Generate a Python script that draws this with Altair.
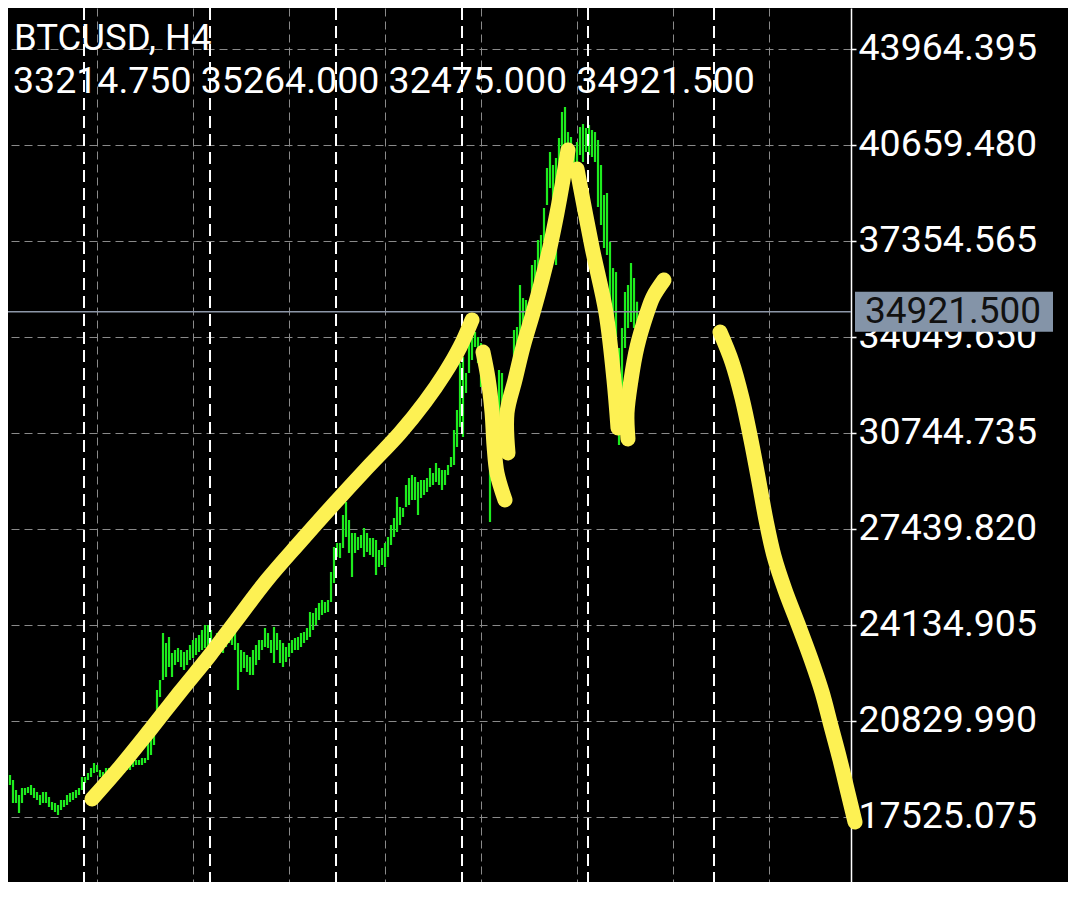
import altair as alt
import pandas as pd

# ---------------- data ----------------
symbol = "BTCUSD, H4"
first_bar = 2  # index of the first bar drawn (H4 bars)

highs = [
    19143, 18971, 18799, 18455, 18283, 18524, 18524, 18558, 18627, 18524,
    18386, 18283, 18386, 18386, 18214, 18041, 18007, 17938, 18110, 18110,
    18283, 18352, 18386, 18455, 18524, 18902, 18902, 19040, 19212, 19384,
    19315, 19143, 19074, 19212, 19212, 19212, 19143, 19143, 19212, 19212,
    19315, 19418, 19487, 19487, 19487, 19556, 19556, 20176, 20520, 20933,
    21897, 22241, 23859, 23515, 23722, 23171, 23274, 23343, 23274, 23205,
    23274, 23446, 23618, 23687, 23791, 23963, 24135, 24135, 23963, 23618,
    23859, 23791, 23722, 23963, 24066, 24032, 24066, 23515, 23274, 23205,
    23102, 23033, 23274, 23446, 23618, 23618, 24032, 23859, 23618, 24066,
    23859, 23618, 23515, 23377, 23515, 23618, 23687, 23722, 23859, 23894,
    24032, 24582, 24548, 24720, 24892, 24995, 24926, 24995, 25959, 26820,
    26958, 26958, 27922, 28369, 27749, 27302, 27302, 27164, 27233, 27474,
    27302, 27130, 27130, 27061, 26717, 26786, 26958, 27164, 27577, 27818,
    28541, 28197, 28163, 28954, 29195, 29299, 29230, 29057, 29126, 29126,
    29195, 29540, 29368, 29712, 29540, 29471, 29471, 29643, 29918, 30848,
    31536, 33154, 33361, 32810, 33946, 34290, 34221, 34049, 33842, 33602,
    33257, 30848, 31192, 31880, 32913, 32810, 31880, 32122, 32844, 34290,
    34393, 35839, 35391, 35323, 35219, 36528, 36700, 37388, 37561, 38490,
    39867, 40418, 39970, 40211, 40900, 41795, 41967, 41106, 40934, 40556,
    40762, 41278, 41381, 41244, 41347, 41175, 41106, 40831, 39970, 38938,
    39007, 37320, 36424, 36286, 33671, 34358, 35598, 35839, 36597, 36080,
    35264,
]

lows = [
    18627, 18627, 18007, 18007, 17663, 18007, 18283, 18352, 18283, 18179,
    18110, 17938, 18007, 18007, 17869, 17766, 17697, 17594, 17766, 17869,
    17938, 18041, 18110, 18179, 18283, 18455, 18696, 18799, 18902, 19040,
    19074, 18902, 18868, 18937, 18971, 18971, 18937, 18971, 19040, 19040,
    19143, 19143, 19246, 19315, 19315, 19315, 19384, 19487, 19660, 20004,
    20623, 21656, 22241, 22345, 22689, 22345, 22758, 22861, 22689, 22586,
    22758, 22930, 22999, 23102, 23205, 23274, 23343, 23171, 23171, 23033,
    23274, 23274, 23171, 23377, 23515, 23446, 23274, 21897, 22517, 22655,
    22517, 22414, 22414, 22758, 22930, 23274, 23377, 23343, 23171, 22827,
    23274, 22827, 22689, 22861, 23033, 23171, 23274, 23274, 23377, 23515,
    23618, 23722, 23963, 24135, 24307, 24479, 24548, 24582, 24926, 25581,
    26476, 26441, 26786, 27164, 26613, 25787, 26613, 26717, 26786, 26476,
    26648, 26545, 26476, 25856, 26131, 26200, 26131, 26476, 26889, 27164,
    27336, 27577, 27853, 28197, 28266, 28438, 28438, 27922, 28507, 28610,
    28713, 28885, 28954, 29057, 28954, 28782, 28954, 29299, 29574, 29643,
    30262, 30950, 30607, 32122, 32810, 33257, 33705, 33154, 32328, 32569,
    31880, 27680, 29471, 30503, 30950, 31433, 31192, 31433, 31880, 32913,
    33498, 34049, 33946, 34290, 34634, 35391, 35770, 36252, 36424, 37320,
    38593, 39179, 38696, 36528, 39729, 40418, 40556, 40074, 39970, 39729,
    39626, 40315, 40074, 40418, 40315, 40246, 40074, 38524, 37905, 37113,
    36872, 35047, 33671, 33430, 30331, 31020, 33671, 34358, 34565, 34358,
    32475,
]

last_ohlc = [33214.750, 35264.000, 32475.000, 34921.500]
current_price = 34921.500

price_ticks = [43964.395, 40659.480, 37354.565, 34049.650, 30744.735,
               27439.820, 24134.905, 20829.990, 17525.075]
week_separators = [27.67, 69.67, 111.67, 153.67, 195.67, 237.67]
grid_bars = [32, 64, 96, 128, 160, 192, 224, 256]

# hand-drawn yellow strokes (bar index, price)
s1_x = [30.33, 39.67, 49.67, 59.67, 69.67, 78, 88.67, 99.67, 110.67, 122,
        133, 141.33, 148, 153, 157]
s1_p = [18144, 19246, 20520, 21828, 23102, 24238, 25684, 26992, 28266, 29540,
        30744, 31812, 32810, 33705, 34635]
s2_x = [160.67, 162.33, 163.67, 164.33, 165.33, 168]
s2_p = [33533, 32638, 31467, 30331, 29367, 28438]
s3_x = [169, 168.67, 171.33, 174, 177.33, 180.33, 183, 185.33, 187.33, 189]
s3_p = [30056, 31433, 32569, 33705, 34876, 36012, 37148, 38318, 39454, 40487]
s4_x = [192, 197, 201.67, 204.33, 205.67]
s4_p = [39833, 37148, 34876, 32569, 30917]
s5_x = [209, 208.67, 210, 212, 215.33, 217.33, 221]
s5_p = [30538, 31433, 32569, 33705, 34876, 35426, 36012]
s6_x = [239.67, 243.67, 247, 250, 252.67, 255, 257.67, 261.33, 265.67,
        270, 273.67, 276.67, 279.67, 282.33, 284.67]
s6_p = [34221, 33188, 31949, 30503, 29057, 27749, 26510, 25339, 24169,
        22964, 21828, 20657, 19487, 18351, 17350]

# ---------------- tables ----------------
bars = pd.DataFrame({
    "bar": list(range(first_bar, first_bar + len(highs))),
    "high": highs,
    "low": lows,
})

stroke_rows = []
for sid, (xs, ps) in enumerate([(s1_x, s1_p), (s2_x, s2_p), (s3_x, s3_p),
                                (s4_x, s4_p), (s5_x, s5_p), (s6_x, s6_p)]):
    for k, (xv, pv) in enumerate(zip(xs, ps)):
        stroke_rows.append({"stroke": sid, "seq": k, "bar": xv, "price": pv})
strokes = pd.DataFrame(stroke_rows)

seps = pd.DataFrame({"bar": week_separators})
price_df = pd.DataFrame({"price": [current_price], "label": [f"{current_price:.3f}"]})
header_df = pd.DataFrame({"t1": [symbol],
                          "t2": [" ".join(f"{v:.3f}" for v in last_ohlc)]})

# ---------------- scales / encodings ----------------
FONT = "Roboto"
GREY = "#8a8a8a"

x_scale = alt.Scale(domain=[7 / 3, 850 / 3], nice=False, zero=False)
y_scale = alt.Scale(domain=[15287.3, 45375.8], nice=False, zero=False)

x_axis = alt.Axis(values=grid_bars, grid=True, gridColor=GREY, gridDash=[8, 5],
                  gridWidth=1, labels=False, ticks=False, domain=False, title=None)
y_axis = alt.Axis(orient="right", values=price_ticks, format=".3f",
                  labelFont=FONT, labelFontSize=37.5, labelColor="white",
                  labelPadding=2, tickColor="white", tickSize=5, tickWidth=1.5,
                  domainColor="white", domainWidth=1.5, grid=True,
                  gridColor=GREY, gridDash=[8, 5], gridWidth=1,
                  title=None, labelOverlap=False, zindex=0)


def X(field):
    return alt.X(f"{field}:Q", scale=x_scale, axis=x_axis)


def Y(field):
    return alt.Y(f"{field}:Q", scale=y_scale, axis=y_axis)


bar_layer = alt.Chart(bars).mark_rule(color="#1eec1e", strokeWidth=2.2, clip=True).encode(
    x=X("bar"), y=Y("high"), y2="low"
)

sep_layer = alt.Chart(seps).mark_rule(color="white", strokeWidth=2,
                                      strokeDash=[12, 6]).encode(x=X("bar"))

price_line = alt.Chart(price_df).mark_rule(color="#8d97a8", strokeWidth=1.5).encode(
    y=Y("price")
)

yellow = alt.Chart(strokes).mark_line(
    color="#fdf153", strokeWidth=15, strokeCap="round", strokeJoin="round",
    interpolate="catmull-rom"
).encode(x=X("bar"), y=Y("price"), detail="stroke:N", order="seq:O")

price_box = alt.Chart(price_df).mark_rule(color="#8494a8", strokeWidth=40,
                                          strokeCap="butt").encode(
    x=alt.value(847), x2=alt.value(1045), y=Y("price")
)
price_text = alt.Chart(price_df).mark_text(
    align="left", baseline="middle", font=FONT, fontSize=37, color="#111111"
).encode(x=alt.value(857), y=Y("price"), text="label:N")

head1 = alt.Chart(header_df).mark_text(
    align="left", baseline="alphabetic", font=FONT, fontSize=36.5, color="white"
).encode(x=alt.value(6), y=alt.value(42), text="t1:N")
head2 = alt.Chart(header_df).mark_text(
    align="left", baseline="alphabetic", font=FONT, fontSize=37.5, color="white"
).encode(x=alt.value(5), y=alt.value(85), text="t2:N")

chart = alt.layer(
    bar_layer, sep_layer, price_line, yellow, price_box, price_text, head1, head2
).properties(
    width=843, height=874,
    autosize=alt.AutoSizeParams(type="none"),
    padding={"left": 0, "top": 0, "right": 217, "bottom": 0},
    background="black",
).configure_view(strokeWidth=0)

chart.save("out.html", embed_options={"renderer": "svg", "actions": False})
